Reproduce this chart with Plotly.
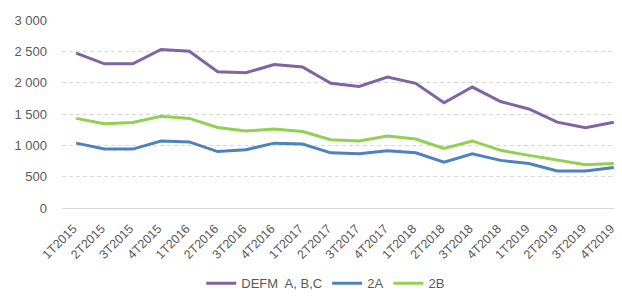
import plotly.graph_objects as go

quarters = ["1T2015","2T2015","3T2015","4T2015","1T2016","2T2016","3T2016","4T2016",
            "1T2017","2T2017","3T2017","4T2017","1T2018","2T2018","3T2018","4T2018",
            "1T2019","2T2019","3T2019","4T2019"]
defm = [2470, 2300, 2300, 2530, 2500, 2175, 2160, 2290, 2250, 1990, 1940, 2090,
        1990, 1680, 1930, 1700, 1580, 1370, 1280, 1370]
a2 = [1035, 940, 940, 1070, 1055, 900, 930, 1035, 1020, 880, 865, 915,
      880, 730, 865, 760, 710, 590, 590, 645]
b2 = [1430, 1345, 1365, 1465, 1430, 1285, 1230, 1260, 1220, 1090, 1070, 1150,
      1100, 950, 1070, 920, 840, 760, 690, 710]
names = ["DEFM  A, B,C", "2A", "2B"]
colors = ["#8064A2", "#4F81BD", "#92D050"]

fig = go.Figure()
for name, vals, col in zip(names, [defm, a2, b2], colors):
    fig.add_trace(go.Scatter(x=quarters, y=vals, name=name, mode="lines",
                             line=dict(color=col, width=3)))

fig.update_layout(
    width=622, height=300,
    margin=dict(l=54, r=8, t=12, b=100, autoexpand=False),
    paper_bgcolor="white", plot_bgcolor="white",
    separators=", ",
    font=dict(family="Liberation Sans, Arial, sans-serif", color="#595959", size=13),
    showlegend=True,
    legend=dict(orientation="h", x=0.471, xanchor="center", y=-0.40, yanchor="middle",
                font=dict(size=13, color="#595959"), itemwidth=30, tracegroupgap=0),
    xaxis=dict(range=[-0.5, 19.29], tickangle=-45, showgrid=False, showline=False,
               ticks="", ticklabelshift=-3, ticklabelstandoff=10,
               tickfont=dict(size=12.5, color="#595959")),
    yaxis=dict(range=[0, 3000], dtick=500, tickformat=",d", showgrid=True,
               gridcolor="#D9D9D9", griddash="4px,3px", gridwidth=1,
               zeroline=True, zerolinecolor="#D9D9D9", zerolinewidth=1,
               ticks="", ticklabelstandoff=14, tickfont=dict(size=13, color="#595959")),
)
fig.write_html("out.html")
